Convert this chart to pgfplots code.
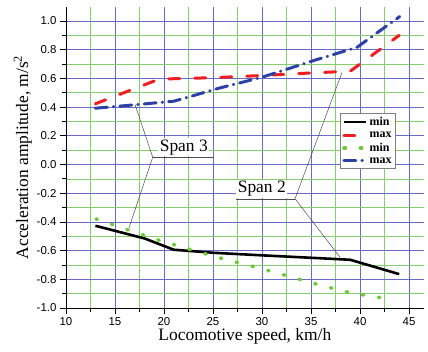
\documentclass[border=0pt]{standalone}
\usepackage{fontspec}
\setmainfont{Liberation Serif}
\newfontfamily\arial{Liberation Sans}
\usepackage{pgfplots}
\pgfplotsset{compat=1.18}

\definecolor{gridblue}{RGB}{105,105,200}
\definecolor{gridgreen}{RGB}{135,205,110}
\definecolor{cred}{RGB}{240,30,35}
\definecolor{cblue}{RGB}{45,65,165}
\definecolor{cgreen}{RGB}{110,200,60}

\begin{document}
\begin{tikzpicture}
\path[use as bounding box] (-66bp,-44bp) rectangle (362bp,308bp);
\begin{axis}[
 name=ax,
 at={(0,0)}, anchor=south west,
 scale only axis, width=357.7bp, height=301.35bp,
 xmin=10, xmax=46.5, ymin=-1.0, ymax=1.1,
 axis lines=left, axis line style={-, black, line width=0.9pt},
 xtick={10,15,20,25,30,35,40,45},
 ytick={-1,-0.8,-0.6,-0.4,-0.2,0,0.2,0.4,0.6,0.8,1.0},
 minor x tick num=1, minor y tick num=1,
 grid=both,
 major grid style={gridblue, line width=0.7pt},
 minor grid style={gridgreen, line width=0.7pt},
 tick align=outside, major tick length=6bp, minor tick length=4bp,
 tick style={black, line width=0.8pt},
 ticklabel style={font=\arial\fontsize{11.5}{13}\selectfont},
 /pgf/number format/assume math mode=true,
 yticklabel style={/pgf/number format/.cd, fixed, fixed zerofill, precision=1},
 xticklabel style={/pgf/number format/.cd, fixed, precision=0},
 xlabel={Locomotive speed, km/h},
 ylabel={Acceleration amplitude, m/s\textsuperscript{2}},
 label style={font=\fontsize{17.5}{20}\selectfont},
 xlabel style={yshift=4bp},
 ylabel style={yshift=-2bp},
 legend style={at={(rel axis cs:0.766,0.647)}, anchor=north west,
   draw=gray, fill=white, font=\bfseries\fontsize{12}{14}\selectfont,
   row sep=0.5bp, inner xsep=2bp, inner ysep=2bp, cells={anchor=west}},
 legend image code/.code={\draw[#1] (0bp,0bp) -- (22bp,0bp);},
]
% annotations
\draw[gray!60!black, line width=0.5pt] (axis cs:17.04,0.418) -- (axis cs:18.85,0.051) -- (axis cs:16.43,-0.441);
\node[fill=white, anchor=south west, inner sep=1.5bp, font=\fontsize{17.5}{20}\selectfont] at (axis cs:19.4,0.055) {Span 3};
\draw[gray!60!black, line width=0.5pt] (axis cs:18.85,0.051) -- (axis cs:25.0,0.051);
\draw[gray!60!black, line width=0.5pt] (axis cs:38.16,0.641) -- (axis cs:33.37,-0.239) -- (axis cs:37.96,-0.646);
\node[fill=white, anchor=south east, inner sep=1.5bp, font=\fontsize{17.5}{20}\selectfont] at (axis cs:32.6,-0.235) {Span 2};
\draw[gray!60!black, line width=0.5pt] (axis cs:27.3,-0.239) -- (axis cs:33.37,-0.239);
% data
\addplot[black, line width=2.6bp] coordinates {
 (13,-0.427) (18,-0.515) (21,-0.594) (25,-0.615) (30,-0.633) (35,-0.65) (39,-0.664) (44,-0.764)};
\addlegendentry{min}
\addplot[cred, line width=3bp, line cap=round, dash pattern=on 11bp off 15bp] coordinates {
 (13,0.423) (19.5,0.595) (25,0.605) (30,0.62) (35,0.638) (39,0.65) (44,0.90)};
\addlegendentry{max}
\addplot[cgreen, line width=3.5bp, line cap=round, dash pattern=on 1.5bp off 14.8bp] coordinates {
 (13.06,-0.379) (16.3,-0.455) (19.6,-0.53) (22.9,-0.597) (26.2,-0.66) (29.5,-0.718) (32.8,-0.78) (36.05,-0.843) (39.4,-0.90) (41.0,-0.915) (42.6,-0.934)};
\addlegendentry{min}
\addplot[cblue, line width=3bp, line cap=round, dash pattern=on 12bp off 6bp on 0.5bp off 6bp] coordinates {
 (13,0.392) (17,0.416) (21,0.441) (23,0.48) (25.5,0.53) (30,0.608) (35.3,0.725) (39.7,0.817) (44.05,1.031)};
\addlegendentry{max}
\end{axis}
\end{tikzpicture}
\end{document}
